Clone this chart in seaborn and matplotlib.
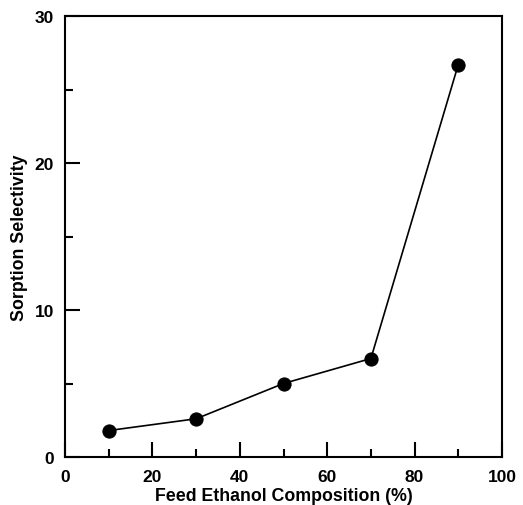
import matplotlib
matplotlib.use("Agg")
import matplotlib.pyplot as plt
import seaborn as sns
import pandas as pd
from matplotlib.ticker import MultipleLocator

feed_ethanol = [10, 30, 50, 70, 90]
selectivity = [1.8, 2.6, 5.0, 6.7, 26.7]

sns.set_style("ticks")
plt.rcParams['font.family'] = ['Liberation Sans', 'DejaVu Sans']
plt.rcParams['font.weight'] = 'bold'
plt.rcParams['text.color'] = 'black'
plt.rcParams['axes.labelcolor'] = 'black'
plt.rcParams['xtick.color'] = 'black'
plt.rcParams['ytick.color'] = 'black'

df = pd.DataFrame({"x": feed_ethanol, "y": selectivity})

fig = plt.figure(figsize=(5.23, 5.06), dpi=100)
ax = fig.add_axes([65/523, 1-458/506, (502-65)/523, (458-17)/506])
sns.lineplot(data=df, x="x", y="y", ax=ax, color="black", linewidth=1.2,
             marker="o", markersize=9.5, markeredgecolor="black", markerfacecolor="black")

ax.set_xlim(0, 100)
ax.set_ylim(0, 30)
ax.xaxis.set_major_locator(MultipleLocator(20))
ax.xaxis.set_minor_locator(MultipleLocator(10))
ax.yaxis.set_major_locator(MultipleLocator(10))
ax.yaxis.set_minor_locator(MultipleLocator(5))
ax.tick_params(axis="x", which="major", pad=9)
ax.tick_params(axis="y", which="major", pad=8)
ax.tick_params(which="major", direction="in", length=11, width=1.5, labelsize=12.5)
ax.tick_params(which="minor", direction="in", length=6, width=1.5)
for lab in ax.get_xticklabels() + ax.get_yticklabels():
    lab.set_fontweight("bold")
for s in ax.spines.values():
    s.set_linewidth(1.5)
    s.set_color("black")
ax.set_xlabel("Feed Ethanol Composition (%)", fontsize=12.8, fontweight="bold", labelpad=2)
ax.set_ylabel("Sorption Selectivity", fontsize=12.8, fontweight="bold", labelpad=5)

fig.savefig("out.png", dpi=100)
